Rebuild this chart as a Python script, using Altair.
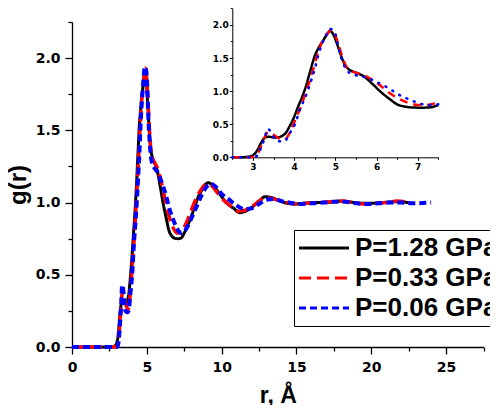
import altair as alt
import pandas as pd

series_names = ["P=1.28 GPa", "P=0.33 GPa", "P=0.06 GPa"]
series_colors = ["#000000", "#ff0000", "#0000ff"]

# P = 1.28 GPa (black, solid)
r_128 = [0, 2.5, 2.7, 2.9, 3.0, 3.1, 3.2, 3.3, 3.4, 3.5, 3.6, 3.7, 3.8, 3.9, 4.0, 4.1, 4.2, 4.3,
         4.4, 4.5, 4.6, 4.7, 4.8, 4.87, 4.95, 5.05, 5.15, 5.25, 5.35, 5.5, 5.7, 5.9, 6.1, 6.3,
         6.5, 6.7, 6.9, 7.1, 7.3, 7.5, 7.8, 8.1, 8.4, 8.7, 9.1, 9.4, 9.8, 10.3, 10.8, 11.2,
         11.6, 12.0, 12.5, 12.9, 13.3, 13.7, 14.2, 14.8, 15.5, 16.3, 17.0, 17.8, 18.5, 19.3,
         20.0, 20.8, 21.5, 22.5]
g_128 = [0, 0, 0, 0.01, 0.03, 0.1, 0.22, 0.30, 0.31, 0.30, 0.30, 0.32, 0.37, 0.48, 0.61, 0.77,
         0.92, 1.1, 1.32, 1.53, 1.66, 1.76, 1.86, 1.91, 1.86, 1.70, 1.52, 1.38, 1.32, 1.28,
         1.22, 1.11, 0.99, 0.89, 0.80, 0.765, 0.752, 0.75, 0.755, 0.79, 0.86, 0.94, 1.03,
         1.09, 1.137, 1.12, 1.07, 1.0, 0.96, 0.93, 0.94, 0.965, 1.01, 1.04, 1.035, 1.02, 1.0,
         0.99, 0.995, 1.0, 1.0, 1.01, 1.005, 0.995, 0.995, 1.0, 1.005, 1.0]

# P = 0.33 GPa (red, dashed)
r_033 = [0, 2.5, 2.9, 3.0, 3.1, 3.2, 3.3, 3.37, 3.45, 3.55, 3.65, 3.75, 3.85, 3.95, 4.05, 4.15,
         4.25, 4.35, 4.45, 4.55, 4.65, 4.75, 4.85, 4.9, 4.98, 5.07, 5.17, 5.27, 5.4, 5.55, 5.7,
         5.9, 6.1, 6.3, 6.5, 6.7, 6.9, 7.0, 7.2, 7.5, 7.8, 8.1, 8.4, 8.7, 9.0, 9.3, 9.7, 10.2,
         10.7, 11.1, 11.5, 12.0, 12.5, 12.9, 13.3, 13.8, 14.3, 15.0, 15.7, 16.5, 17.2, 18.0,
         18.8, 19.5, 20.3, 21.0, 21.7, 22.6]
g_033 = [0, 0, 0, 0.005, 0.04, 0.17, 0.32, 0.38, 0.36, 0.32, 0.28, 0.26, 0.32, 0.45, 0.6, 0.74,
         0.92, 1.1, 1.3, 1.52, 1.70, 1.81, 1.90, 1.93, 1.87, 1.72, 1.52, 1.37, 1.30, 1.27, 1.24,
         1.17, 1.08, 0.98, 0.90, 0.84, 0.80, 0.79, 0.79, 0.83, 0.90, 0.98, 1.05, 1.1, 1.13,
         1.12, 1.07, 1.01, 0.97, 0.94, 0.945, 0.97, 1.01, 1.035, 1.03, 1.015, 1.0, 0.99, 0.995,
         1.0, 1.005, 1.01, 1.0, 0.99, 0.995, 1.0, 1.01, 1.0]

# P = 0.06 GPa (blue, short dashes)
r_006 = [0, 2.5, 2.9, 3.0, 3.09, 3.21, 3.29, 3.35, 3.42, 3.5, 3.57, 3.7, 3.78, 3.9, 4.02, 4.14,
         4.26, 4.34, 4.42, 4.5, 4.59, 4.67, 4.75, 4.87, 4.95, 5.01, 5.11, 5.18, 5.27, 5.4, 5.5,
         5.72, 5.92, 6.13, 6.33, 6.53, 6.73, 6.93, 7.13, 7.3, 7.5, 7.8, 8.1, 8.4, 8.7, 9.0, 9.3,
         9.6, 10.0, 10.5, 11.0, 11.5, 12.0, 12.5, 13.0, 13.5, 14.0, 14.5, 15.2, 16.0, 16.8,
         17.5, 18.3, 19.0, 19.8, 20.5, 21.3, 22.0, 22.7, 24.0]
g_006 = [0, 0, 0, 0.0, 0.02, 0.16, 0.30, 0.43, 0.40, 0.31, 0.25, 0.24, 0.25, 0.37, 0.50, 0.72,
         0.89, 1.02, 1.17, 1.33, 1.55, 1.70, 1.81, 1.94, 1.92, 1.85, 1.57, 1.44, 1.32, 1.26, 1.24,
         1.21, 1.16, 1.10, 1.03, 0.95, 0.89, 0.84, 0.80, 0.79, 0.80, 0.85, 0.92, 0.99, 1.06,
         1.11, 1.13, 1.11, 1.06, 1.02, 0.98, 0.955, 0.96, 0.99, 1.02, 1.025, 1.01, 1.0, 0.99,
         0.995, 1.0, 1.005, 1.005, 0.995, 0.99, 0.995, 1.0, 1.0, 0.995, 1.0]

main_x_ticks = [0, 2.5, 5, 7.5, 10, 12.5, 15, 17.5, 20, 22.5, 25, 27.5]
main_y_ticks = [0, 0.25, 0.5, 0.75, 1.0, 1.25, 1.5, 1.75, 2.0, 2.25]
inset_x_ticks = [2.5, 3, 3.5, 4, 4.5, 5, 5.5, 6, 6.5, 7, 7.5]
inset_y_ticks = [0, 0.25, 0.5, 0.75, 1.0, 1.25, 1.5, 1.75, 2.0, 2.25]

frames = []
for name, rr, gg in zip(series_names, [r_128, r_033, r_006], [g_128, g_033, g_006]):
    frames.append(pd.DataFrame({"r": rr, "g": gg, "series": name}))
df = pd.concat(frames, ignore_index=True)

W, H = 411.5, 325

is5 = "datum.value % 5 == 0"
ishalf = "abs(datum.value * 2 - round(datum.value * 2)) < 0.001"
isint = "abs(datum.value - round(datum.value)) < 0.001"

x_main = alt.X(
    "r:Q",
    title="r, Å",
    scale=alt.Scale(domain=[0, 27.5], nice=False, zero=False),
    axis=alt.Axis(
        values=main_x_ticks,
        labelExpr=f"{is5} ? format(datum.value, 'd') : ''",
        tickSize={"condition": {"test": is5, "value": 7}, "value": 4},
        labelFont="DejaVu Sans", labelFontWeight="bold", labelFontSize=14,
        labelPadding=6, labelFlush=False, labelOverlap=False,
        titleFont="Liberation Sans", titleFontWeight="bold", titleFontSize=23,
        titlePadding=10,
    ),
)
y_main = alt.Y(
    "g:Q",
    title="g(r)",
    scale=alt.Scale(domain=[0, 2.25], nice=False, zero=False),
    axis=alt.Axis(
        values=main_y_ticks,
        labelExpr=f"{ishalf} ? format(datum.value, '.1f') : ''",
        tickSize={"condition": {"test": ishalf, "value": 7}, "value": 4},
        labelFont="DejaVu Sans", labelFontWeight="bold", labelFontSize=14,
        labelPadding=5, labelFlush=False, labelOverlap=False,
        titleFont="Liberation Sans", titleFontWeight="bold", titleFontSize=24,
        titleX=-42, titleY=H / 2,
    ),
)

# legend symbol: a horizontal stroke path, 5 * sqrt(size) px long
legend = alt.Legend(
    title=None, orient="none", legendX=222, legendY=208,
    symbolType="M-5,0H5", symbolSize=100, symbolStrokeWidth=3, symbolOffset=12,
    labelFont="Liberation Sans", labelFontWeight="bold", labelFontSize=26,
    labelLimit=400, labelOffset=18, rowPadding=4, padding=5,
    strokeColor="black", fillColor="white",
)
color_scale = alt.Scale(domain=series_names, range=series_colors)
dash_scale = alt.Scale(domain=series_names, range=[[1, 0], [12, 6], [7, 4]])
main_widths = [3, 3.5, 4]

main_layers = []
for name, w in zip(series_names, main_widths):
    main_layers.append(
        alt.Chart(df)
        .transform_filter(alt.datum.series == name)
        .mark_line(strokeWidth=w, interpolate="monotone")
        .encode(
            x=x_main,
            y=y_main,
            color=alt.Color("series:N", scale=color_scale, legend=legend),
            strokeDash=alt.StrokeDash("series:N", scale=dash_scale, legend=legend),
            order="r:Q",
        )
    )
main = alt.layer(*main_layers)

# inset, drawn in pixel ranges inside the main plot area
ix0, ix1 = 160.3, 366.3
iy0, iy1 = 135.3, -13.6
x_inset = alt.X(
    "r:Q", title=None,
    scale=alt.Scale(domain=[2.5, 7.5], range=[ix0, ix1], nice=False, zero=False),
    axis=alt.Axis(
        orient="bottom", offset=iy0 - H, values=inset_x_ticks,
        labelExpr=f"{isint} ? format(datum.value, 'd') : ''",
        tickSize={"condition": {"test": isint, "value": 3}, "value": 2},
        labelFont="DejaVu Sans", labelFontWeight="bold", labelFontSize=9,
        labelPadding=2, labelFlush=False, labelOverlap=False,
        domainWidth=1, tickWidth=1,
    ),
)
y_inset = alt.Y(
    "g:Q", title=None,
    scale=alt.Scale(domain=[0, 2.25], range=[iy0, iy1], nice=False, zero=False),
    axis=alt.Axis(
        orient="left", offset=-ix0, values=inset_y_ticks,
        labelExpr=f"{ishalf} ? format(datum.value, '.1f') : ''",
        tickSize={"condition": {"test": ishalf, "value": 3}, "value": 2},
        labelFont="DejaVu Sans", labelFontWeight="bold", labelFontSize=9,
        labelPadding=1, labelFlush=False, labelOverlap=False,
        domainWidth=1, tickWidth=1,
    ),
)
inset_dash = [[1, 0], [8, 6], [1, 7]]
inset_widths = [2.5, 2.5, 2.5]
inset_caps = ["butt", "butt", "round"]
inset_layers = []
for name, c, d, w, cap in zip(series_names, series_colors, inset_dash, inset_widths, inset_caps):
    inset_layers.append(
        alt.Chart(df)
        .transform_filter((alt.datum.series == name) & (alt.datum.r >= 2.5) & (alt.datum.r <= 7.5))
        .mark_line(color=c, strokeDash=d, strokeWidth=w, strokeCap=cap, interpolate="monotone")
        .encode(x=x_inset, y=y_inset, order="r:Q")
    )
inset = alt.layer(*inset_layers)

chart = (
    alt.layer(main, inset)
    .resolve_scale(x="independent", y="independent")
    .properties(
        width=W, height=H,
        autosize=alt.AutoSizeParams(type="none"),
        padding={"left": 64, "top": 14, "right": 6.5, "bottom": 58},
    )
    .configure_axis(grid=False, domainColor="black", tickColor="black", labelColor="black",
                    titleColor="black", domainWidth=1.3, tickWidth=1.3)
    .configure_view(stroke=None)
)

chart.save("out.html", embed_options={"renderer": "svg", "actions": False})
